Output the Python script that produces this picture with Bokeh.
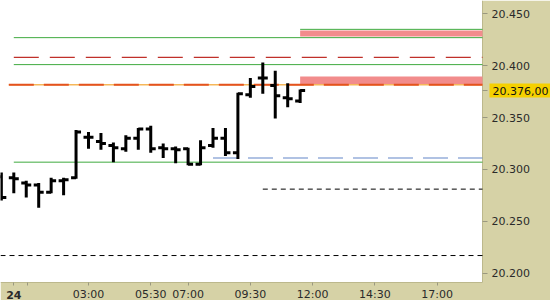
from bokeh.plotting import figure
from bokeh.models import Range1d, FixedTicker, Label
from bokeh.embed import file_html
from bokeh.resources import INLINE

# ---- data (x in hours from midnight of the 24th, prices in index points) ----
bar_hours = [-0.5, 0, 0.5, 1, 1.5, 2, 2.5, 3, 3.5, 4, 4.5, 5, 5.5, 6, 6.5, 7, 7.5,
             8, 8.5, 9, 9.5, 10, 10.5, 11, 11.5]
opens  = [20293, 20292, 20287, 20285, 20278, 20289, 20292, 20331, 20327, 20323, 20320, 20330, 20339,
          20321, 20320, 20320, 20305, 20323, 20330, 20316, 20372, 20388, 20381, 20369, 20366]
highs  = [20297, 20297, 20289, 20287, 20292, 20292, 20338, 20336, 20335, 20326, 20333, 20340, 20342,
          20325, 20322, 20321, 20328, 20340, 20340, 20374, 20388, 20403, 20395, 20383, 20377]
lows   = [20270, 20277, 20273, 20263, 20277, 20275, 20291, 20320, 20319, 20307, 20317, 20319, 20316,
          20311, 20306, 20304, 20304, 20321, 20313, 20310, 20369, 20373, 20349, 20360, 20364]
closes = [20273, 20291, 20285, 20278, 20289, 20290, 20336, 20331, 20325, 20321, 20330, 20339, 20320,
          20320, 20319, 20305, 20321, 20330, 20316, 20373, 20380, 20388, 20371, 20368, 20376]

green_levels = [20427, 20401, 20307]
green_starts = [0, 0, 0]
zone_line_level = 20435
zone_line_start = 11.5
zone_lows = [20428, 20382]
zone_highs = [20434, 20389.5]
zone_starts = [11.5, 11.5]
red_dash_level = 20408
red_dash_start = 0
orange_level = 20381.5
orange_start = -0.2
blue_level = 20311
blue_start = 8
black_levels = [20281, 20217]
black_starts = [10, -0.6]

y_ticks = [20200, 20250, 20300, 20350, 20400, 20450]
x_tick_hours = [0, 3, 5.5, 7, 9.5, 12, 14.5, 17]
x_tick_labels = ["24", "03:00", "05:30", "07:00", "09:30", "12:00", "14:30", "17:00"]

PANEL = "#d6d2a6"
EDGE = "#bcb88c"
FONT = "DejaVu Sans"
PX_PER_H = 24.9
PX_PER_PT = 1.0376
X0 = -0.534                      # left edge of canvas
XC = X0 + 482 / PX_PER_H         # right edge of the price area
X1 = X0 + 550 / PX_PER_H         # right edge of canvas
Y1 = 20462.8                     # top of canvas
YC = Y1 - 282 / PX_PER_PT        # bottom of the price area
Y0 = Y1 - 300 / PX_PER_PT        # bottom of canvas

p = figure(frame_width=550, frame_height=300, width=550, height=300,
           output_backend="svg", toolbar_location=None,
           x_range=Range1d(X0, X1), y_range=Range1d(Y0, Y1),
           y_axis_location="right", x_axis_location="below",
           min_border_left=0, min_border_top=0, min_border_right=0, min_border_bottom=0)
p.border_fill_color = PANEL
p.background_fill_color = "white"
p.outline_line_color = None
p.xgrid.visible = False
p.ygrid.visible = False

# axis panels (background bands of the scales)
p.quad(left=[XC, X0], right=[X1, X1], bottom=[Y0, Y0], top=[Y1, YC],
       fill_color=PANEL, line_color=None)
p.segment(x0=[XC, X0], x1=[XC, XC], y0=[YC, YC], y1=[Y1, YC], line_color=EDGE, line_width=1)

# axes fixed on the edges of the price area
p.yaxis.fixed_location = XC
p.xaxis.fixed_location = YC
p.yaxis.ticker = FixedTicker(ticks=y_ticks + [closes[-1]])
ov = {v: f"{v // 1000}.{v % 1000:03d}" for v in y_ticks}
ov[closes[-1]] = ""
p.yaxis.major_label_overrides = ov
p.xaxis.ticker = FixedTicker(ticks=x_tick_hours, minor_ticks=[0.55])
xov = {h: lab for h, lab in zip(x_tick_hours, x_tick_labels)}
xov[0] = ""
p.xaxis.major_label_overrides = xov
for ax in (p.xaxis[0], p.yaxis[0]):
    ax.axis_line_color = None
    ax.major_tick_line_color = "#9a9880"
    ax.minor_tick_line_color = "#9a9880"
    ax.major_tick_in = 0
    ax.minor_tick_in = 0
    ax.major_label_text_font = FONT
    ax.major_label_text_font_size = "11px"
    ax.major_label_text_color = "#2a2a2a"
p.yaxis.major_tick_out = 5
p.yaxis.minor_tick_line_color = None
p.yaxis.major_label_standoff = 4
p.xaxis.major_tick_out = 3
p.xaxis.minor_tick_out = 3
p.xaxis.major_label_standoff = 2

# zones
p.quad(left=zone_starts, right=[XC] * len(zone_starts), bottom=zone_lows, top=zone_highs,
       fill_color="#f28c8c", line_color=None)

# level lines
p.segment(x0=green_starts, x1=[XC] * len(green_starts), y0=green_levels, y1=green_levels,
          line_color="#3faa3f", line_width=1)
p.segment(x0=[zone_line_start], x1=[XC], y0=[zone_line_level], y1=[zone_line_level],
          line_color="#3faa3f", line_width=1)
p.segment(x0=[red_dash_start], x1=[XC], y0=[red_dash_level], y1=[red_dash_level],
          line_color="#c0302a", line_width=1.3, line_dash="25 11")
p.segment(x0=[orange_start], x1=[XC], y0=[orange_level], y1=[orange_level],
          line_color="#f5b85a", line_width=1.5)
p.segment(x0=[orange_start], x1=[XC], y0=[orange_level], y1=[orange_level],
          line_color="#e4531f", line_width=2, line_dash="25 10")
p.segment(x0=[blue_start], x1=[XC], y0=[blue_level], y1=[blue_level],
          line_color="#6286c8", line_width=1.2, line_dash="25 10")
p.segment(x0=[max(s, X0) for s in black_starts], x1=[XC] * len(black_starts),
          y0=black_levels, y1=black_levels, line_color="black", line_width=1, line_dash="5 4")

# OHLC bars
tick = 0.2
p.segment(x0=bar_hours, x1=bar_hours, y0=lows, y1=highs, line_color="black", line_width=3)
p.segment(x0=[h - tick for h in bar_hours], x1=bar_hours, y0=opens, y1=opens,
          line_color="black", line_width=3)
p.segment(x0=bar_hours, x1=[h + tick for h in bar_hours], y0=closes, y1=closes,
          line_color="black", line_width=3)

# last price label on the price scale
last = closes[-1]
p.add_layout(Label(x=XC + 7 / PX_PER_H, y=last, text=f"{last // 1000}.{last % 1000:03d},00",
                   text_font=FONT, text_font_size="11px", text_color="#111111",
                   text_baseline="middle", background_fill_color="#f5d000",
                   padding=3))
# bold day label on the time scale
p.add_layout(Label(x=x_tick_hours[0], y=YC - 12 / PX_PER_PT, text=x_tick_labels[0],
                   text_font=FONT, text_font_size="11px", text_font_style="bold",
                   text_color="#2a2a2a", text_align="center", text_baseline="middle"))

open("out.html", "w").write(file_html(p, INLINE))
